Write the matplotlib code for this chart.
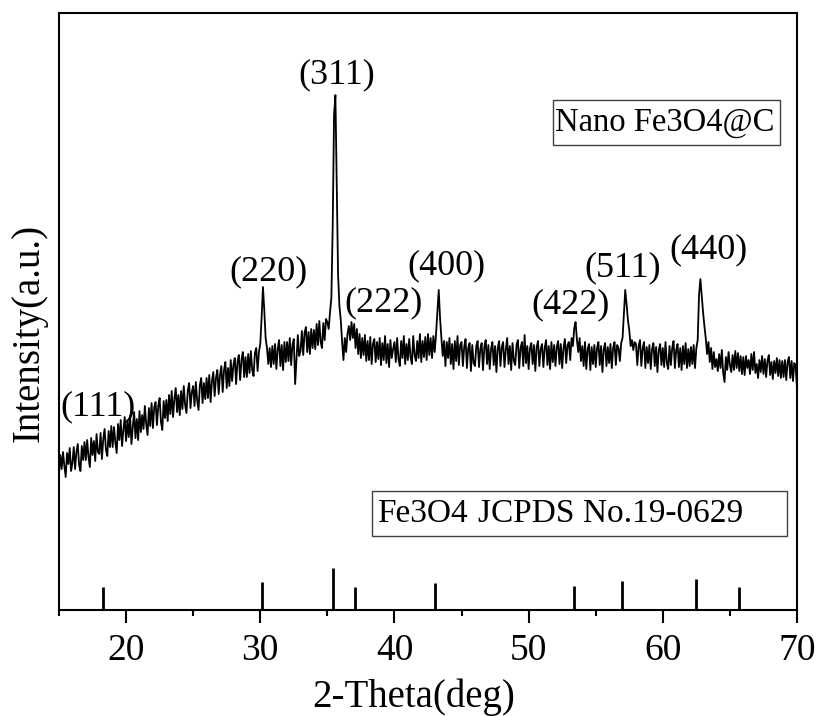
import numpy as np
import matplotlib
matplotlib.use("Agg")
from matplotlib import pyplot as plt
from matplotlib.patches import Rectangle

plt.rcParams['font.family'] = ['Liberation Serif', 'DejaVu Serif']

# measured pattern, 15.0 .. 70.0 deg in 0.1 deg steps (one row per degree)
two_theta_start = 15.0
two_theta_step = 0.1
intensity_rows = [
    [136, 155, 141, 158, 144, 133, 157, 146, 162, 139],  # 15
    [147, 163, 141, 158, 166, 145, 139, 164, 150, 168],  # 16
    [150, 170, 153, 143, 172, 155, 169, 149, 176, 158],  # 17
    [156, 177, 151, 171, 181, 160, 154, 179, 163, 184],  # 18
    [163, 183, 168, 157, 186, 170, 190, 164, 180, 193],  # 19
    [169, 190, 173, 194, 166, 183, 198, 172, 191, 170],  # 20
    [199, 178, 195, 181, 204, 186, 175, 202, 184, 207],  # 21
    [182, 203, 208, 185, 204, 212, 188, 180, 209, 192],  # 22
    [210, 189, 215, 196, 219, 193, 211, 222, 198, 215],  # 23
    [195, 219, 201, 224, 205, 197, 220, 227, 202, 218],  # 24
    [224, 204, 228, 209, 200, 225, 232, 207, 227, 211],  # 25
    [232, 212, 235, 208, 229, 238, 214, 232, 240, 216],  # 26
    [235, 244, 218, 240, 248, 222, 242, 224, 250, 229],  # 27
    [245, 252, 226, 248, 255, 230, 250, 258, 233, 253],  # 28
    [233, 256, 237, 259, 240, 234, 257, 262, 239, 258],  # 29
    [266, 292, 323, 300, 272, 262, 246, 262, 243, 264],  # 30
    [246, 266, 241, 261, 270, 244, 265, 240, 268, 248],  # 31
    [268, 249, 272, 245, 265, 271, 226, 251, 275, 254],  # 32
    [259, 279, 255, 277, 283, 258, 278, 256, 281, 262],  # 33
    [280, 261, 286, 265, 289, 268, 262, 287, 270, 291],  # 34
    [288, 281, 298, 312, 385, 495, 515, 425, 335, 304],  # 35
    [290, 268, 250, 272, 258, 276, 284, 270, 288, 272],  # 36
    [286, 262, 281, 256, 276, 252, 272, 255, 275, 249],  # 37
    [269, 250, 273, 246, 266, 271, 248, 268, 251, 272],  # 38
    [245, 267, 250, 274, 247, 266, 243, 270, 252, 261],  # 39
    [268, 248, 272, 251, 244, 269, 252, 274, 246, 266],  # 40
    [250, 271, 253, 246, 274, 255, 249, 269, 252, 276],  # 41
    [248, 269, 253, 273, 250, 276, 255, 272, 252, 274],  # 42
    [258, 276, 298, 320, 292, 272, 254, 269, 244, 268],  # 43
    [252, 272, 246, 266, 241, 269, 249, 274, 245, 265],  # 44
    [268, 244, 263, 271, 242, 262, 267, 239, 265, 247],  # 45
    [244, 264, 269, 243, 261, 267, 240, 263, 270, 246],  # 46
    [265, 241, 261, 268, 245, 264, 238, 262, 269, 244],  # 47
    [263, 268, 243, 260, 272, 246, 264, 240, 267, 249],  # 48
    [245, 265, 270, 242, 262, 268, 244, 275, 247, 264],  # 49
    [241, 262, 267, 246, 265, 239, 263, 269, 244, 261],  # 50
    [266, 243, 262, 270, 245, 264, 241, 268, 248, 265],  # 51
    [244, 263, 269, 246, 266, 242, 262, 271, 247, 265],  # 52
    [268, 250, 272, 264, 282, 288, 270, 258, 272, 249],  # 53
    [264, 244, 268, 241, 261, 266, 240, 263, 246, 265],  # 54
    [243, 262, 268, 245, 264, 238, 261, 267, 244, 263],  # 55
    [247, 266, 242, 262, 268, 245, 265, 262, 249, 267],  # 56
    [272, 296, 320, 306, 290, 280, 264, 270, 260, 268],  # 57
    [266, 245, 264, 270, 244, 262, 268, 242, 263, 247],  # 58
    [265, 241, 261, 267, 244, 263, 238, 260, 266, 245],  # 59
    [262, 243, 268, 247, 241, 264, 245, 262, 269, 242],  # 60
    [260, 266, 243, 262, 240, 264, 246, 267, 242, 261],  # 61
    [244, 263, 246, 265, 242, 262, 270, 315, 331, 314],  # 62
    [298, 284, 272, 256, 268, 248, 262, 241, 258, 243],  # 63
    [251, 239, 256, 242, 260, 237, 228, 253, 240, 258],  # 64
    [245, 238, 255, 240, 259, 242, 257, 239, 254, 236],  # 65
    [253, 235, 254, 242, 250, 236, 256, 240, 258, 237],  # 66
    [246, 232, 250, 238, 254, 236, 251, 233, 249, 255],  # 67
    [235, 248, 231, 249, 237, 252, 234, 250, 232, 249],  # 68
    [233, 250, 230, 248, 253, 232, 249, 229, 247, 244],  # 69
    [222],                                               # 70
]

# Fe3O4 reference lines (JCPDS 19-0629)
ref_pos = [18.3, 30.1, 35.4, 37.05, 43.05, 53.4, 56.95, 62.5, 65.7]
ref_height = [23, 28, 42, 23, 27, 24, 29, 31, 23]

# hkl labels and where they sit
hkl_labels = ['(111)', '(220)', '(311)', '(222)', '(400)', '(422)', '(511)', '(440)']
hkl_x = [17.9, 30.65, 35.7, 39.2, 43.9, 53.15, 57.0, 63.4]
hkl_y = [203, 338, 535, 307, 344, 305, 342, 360]

intensity = np.array([v for row in intensity_rows for v in row], dtype=float)
two_theta = two_theta_start + two_theta_step * np.arange(len(intensity))

fig = plt.figure(figsize=(8.17, 7.16), dpi=100)
ax = fig.add_axes([0.0722, 0.148, 0.9033, 0.8338])

ax.plot(two_theta, intensity, color='black', lw=1.3)
ax.vlines(ref_pos, 0, ref_height, color='black', lw=2.0)

for lab, x, y in zip(hkl_labels, hkl_x, hkl_y):
    ax.text(x, y, lab, fontsize=26, ha='center', va='center')

# sample box
ax.add_patch(Rectangle((51.81, 465), 16.92, 45, fill=False, ec='#404040', lw=1.0))
ax.text(52.0, 487.5, 'Nano Fe3O4@C', fontsize=23.5, ha='left', va='center')

# reference card box
ax.add_patch(Rectangle((38.32, 74), 30.93, 45, fill=False, ec='#404040', lw=1.0))
ax.text(38.7, 96.5, 'Fe3O4', fontsize=24, ha='left', va='center')
ax.text(46.2, 96.5, 'JCPDS No.19-0629', fontsize=24, ha='left', va='center')

ax.set_xlim(15, 70)
ax.set_ylim(0, 597)
ax.set_xticks([20, 30, 40, 50, 60, 70])
ax.set_xticks([15, 25, 35, 45, 55, 65], minor=True)
ax.set_yticks([])
ax.tick_params(axis='x', which='major', direction='out', length=9, width=1.5,
               labelsize=27, pad=8)
ax.tick_params(axis='x', which='minor', direction='out', length=4.5, width=1.5)
for sp in ax.spines.values():
    sp.set_linewidth(1.5)

ax.set_xlabel('2-Theta(deg)', fontsize=28)
ax.xaxis.set_label_coords(0.481, -0.114)
ax.set_ylabel('Intensity(a.u.)', fontsize=28)
ax.yaxis.set_label_coords(-0.016, 0.464)

fig.savefig('out.png', dpi=100)
